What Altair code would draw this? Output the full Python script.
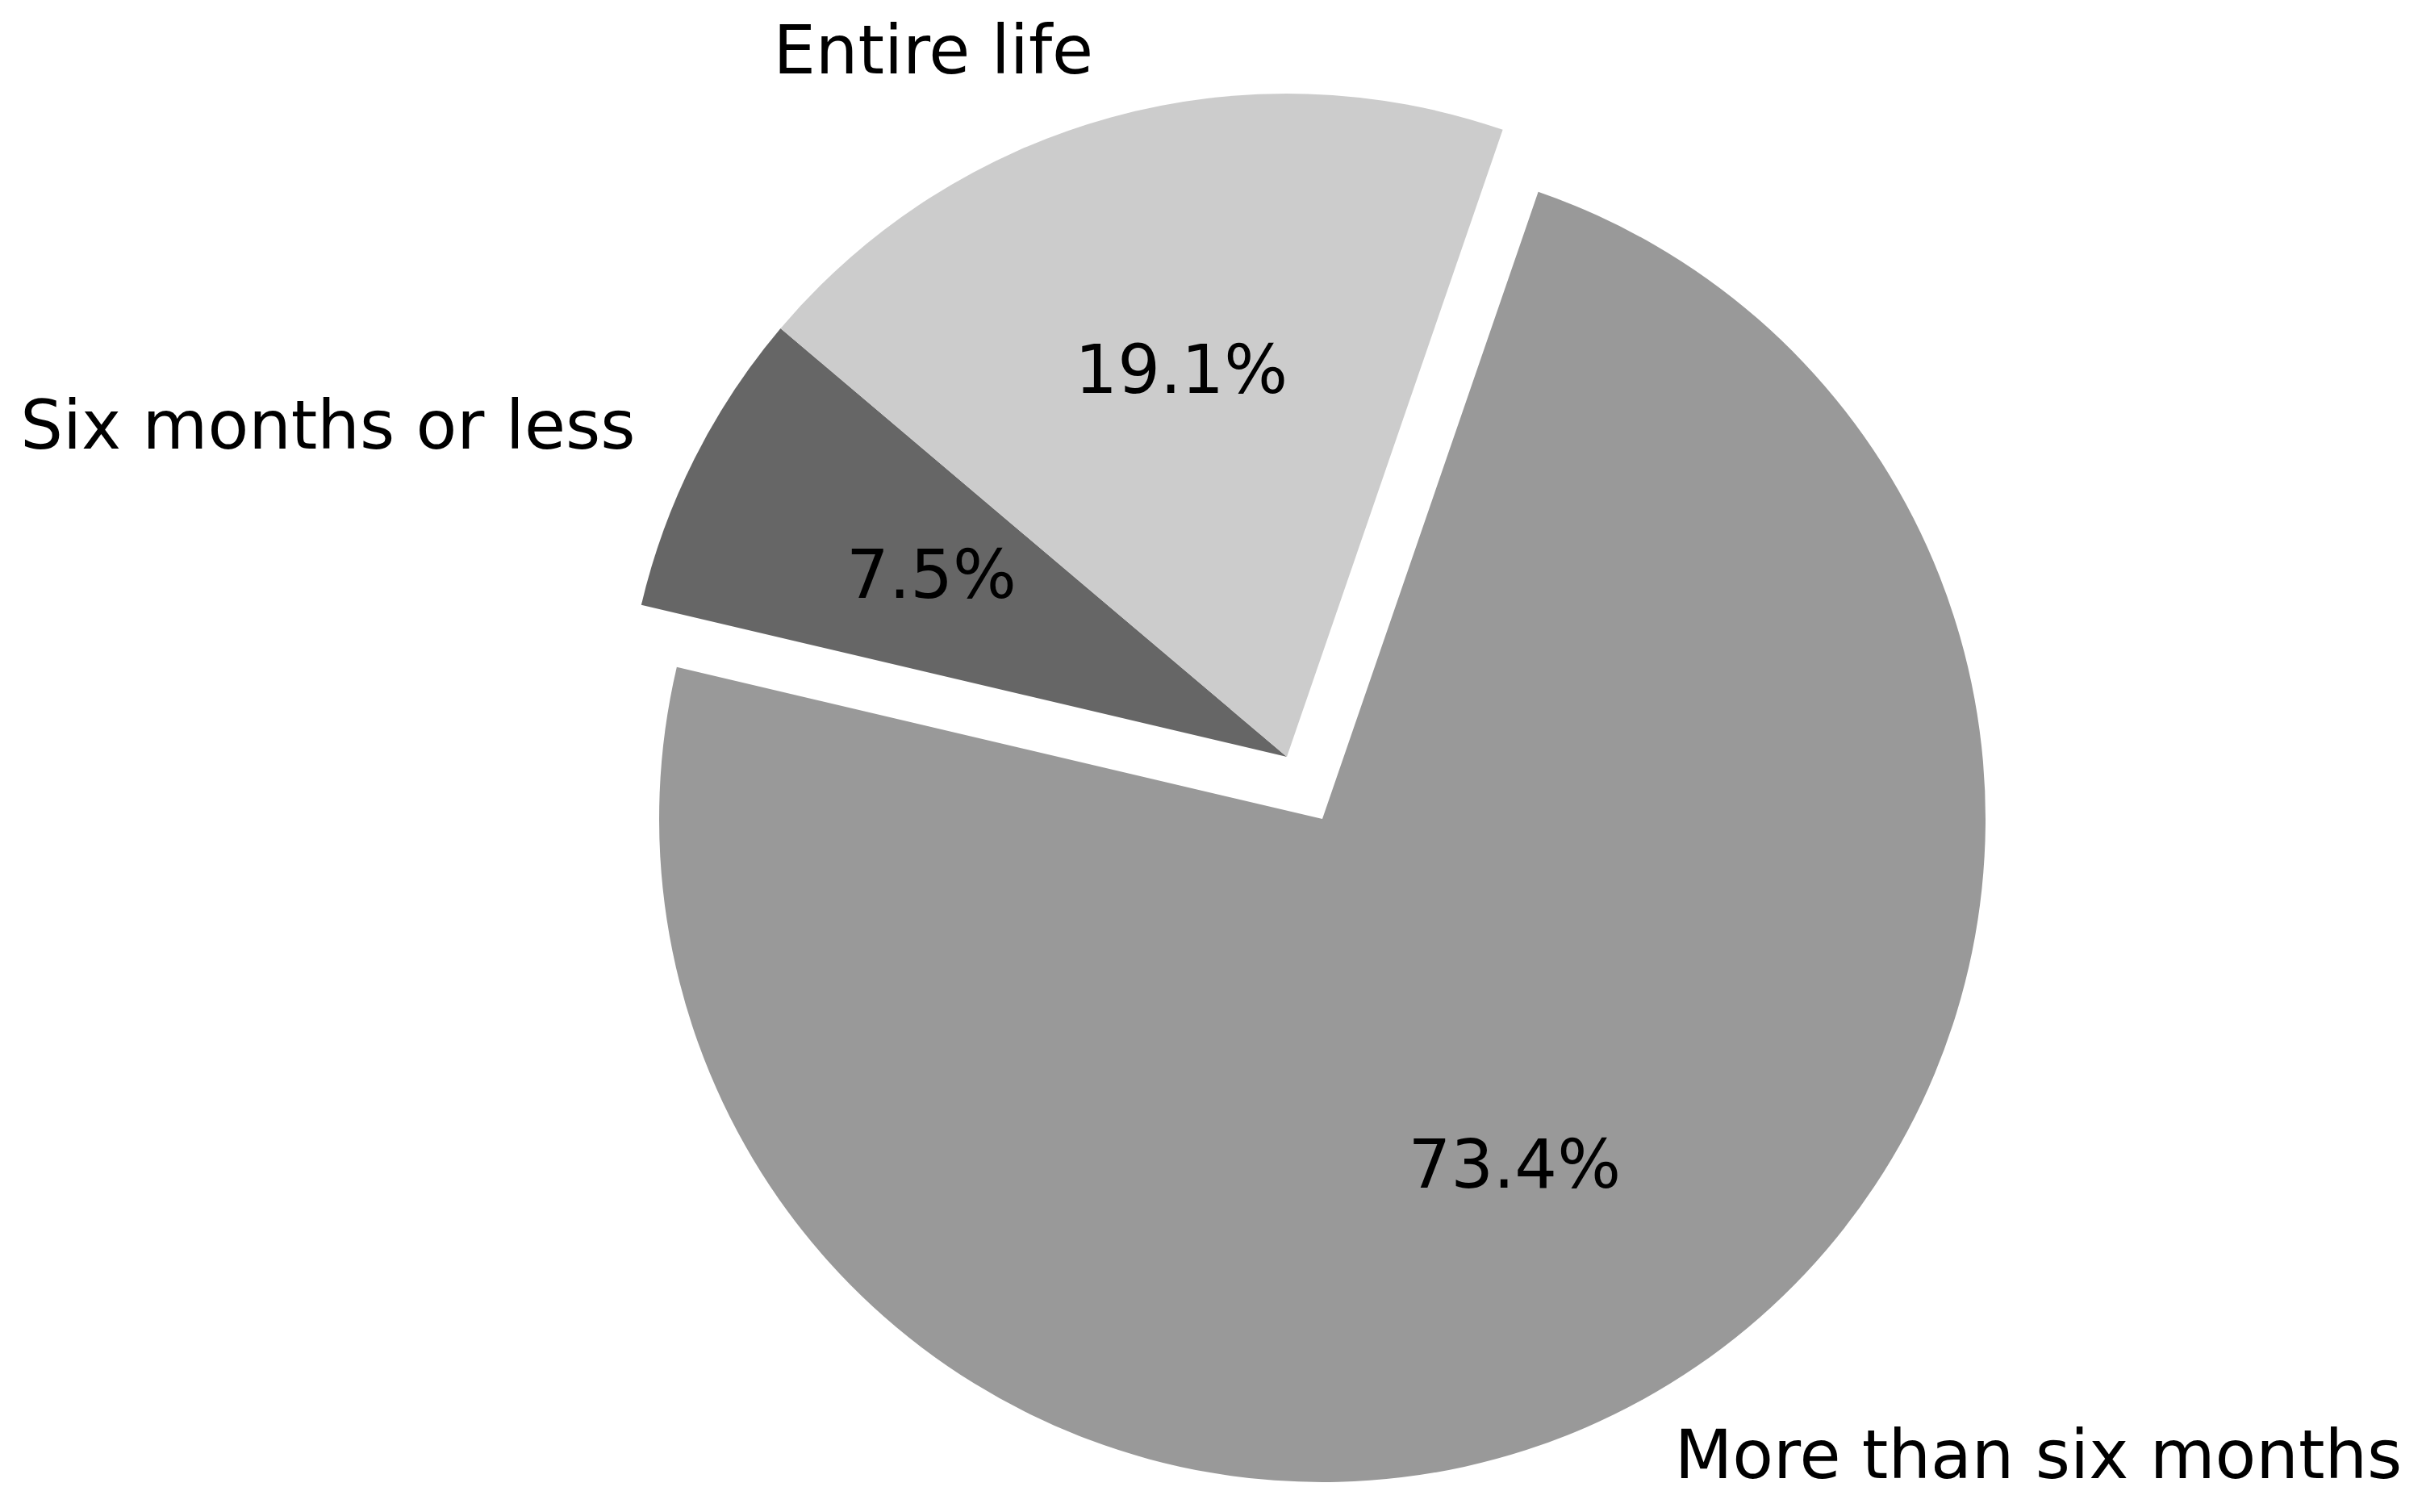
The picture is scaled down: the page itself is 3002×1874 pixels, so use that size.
import math
import altair as alt
import pandas as pd

# Data (clockwise order starting at the top-right boundary)
names = ["More than six months", "Six months or less", "Entire life"]
values = [73.4, 7.5, 19.1]
pct_labels = ["73.4%", "7.5%", "19.1%"]
colors = ["#999999", "#666666", "#cccccc"]
exploded = [True, False, False]
align_side = ["left", "right", "right"]

start_deg = 19.0  # clockwise from 12 o'clock
R = 822
EXPL_DX, EXPL_DY = 44, 77

starts, ends, mids = [], [], []
acc = 0.0
for v in values:
    starts.append(acc)
    ends.append(acc + v)
    mids.append(acc + v / 2)
    acc += v

df = pd.DataFrame({
    "name": names, "value": values, "pct": pct_labels,
    "start": starts, "end": ends, "mid": mids,
    "exploded": exploded, "side": align_side,
})

a0 = math.radians(start_deg)
theta_scale = alt.Scale(domain=[0, 100], range=[a0, a0 + 2 * math.pi])
color_enc = alt.Color("name:N", scale=alt.Scale(domain=names, range=colors), legend=None)

base = alt.Chart(df)

arcs_in = base.mark_arc(outerRadius=R).encode(
    theta=alt.Theta("start:Q", scale=theta_scale, stack=None),
    theta2="end:Q",
    color=color_enc,
).transform_filter("!datum.exploded")

arcs_out = base.mark_arc(outerRadius=R, xOffset=EXPL_DX, yOffset=EXPL_DY).encode(
    theta=alt.Theta("start:Q", scale=theta_scale, stack=None),
    theta2="end:Q",
    color=color_enc,
).transform_filter("datum.exploded")

font = "DejaVu Sans"
fs = 83

lab_right = base.mark_text(radius=1.1 * R, align="right", baseline="middle",
                           font=font, fontSize=fs, color="black").encode(
    theta=alt.Theta("mid:Q", scale=theta_scale, stack=None),
    text="name:N",
).transform_filter("!datum.exploded")

lab_left = base.mark_text(radius=1.1 * R, align="left", baseline="middle",
                          font=font, fontSize=fs, color="black",
                          xOffset=EXPL_DX, yOffset=EXPL_DY).encode(
    theta=alt.Theta("mid:Q", scale=theta_scale, stack=None),
    text="name:N",
).transform_filter("datum.exploded")

pct_in = base.mark_text(radius=0.6 * R, align="center", baseline="middle",
                        font=font, fontSize=fs, color="black").encode(
    theta=alt.Theta("mid:Q", scale=theta_scale, stack=None),
    text="pct:N",
).transform_filter("!datum.exploded")

pct_out = base.mark_text(radius=0.6 * R, align="center", baseline="middle",
                         font=font, fontSize=fs, color="black",
                         xOffset=EXPL_DX, yOffset=EXPL_DY).encode(
    theta=alt.Theta("mid:Q", scale=theta_scale, stack=None),
    text="pct:N",
).transform_filter("datum.exploded")

chart = alt.layer(arcs_in, arcs_out, lab_right, lab_left, pct_in, pct_out).properties(
    width=2400, height=1800,
    autosize=alt.AutoSizeParams(type="none"),
    padding={"left": 387, "top": 30, "right": 195, "bottom": 20},
).configure_view(stroke=None)

chart.save("out.html", embed_options={"renderer": "svg", "actions": False})
